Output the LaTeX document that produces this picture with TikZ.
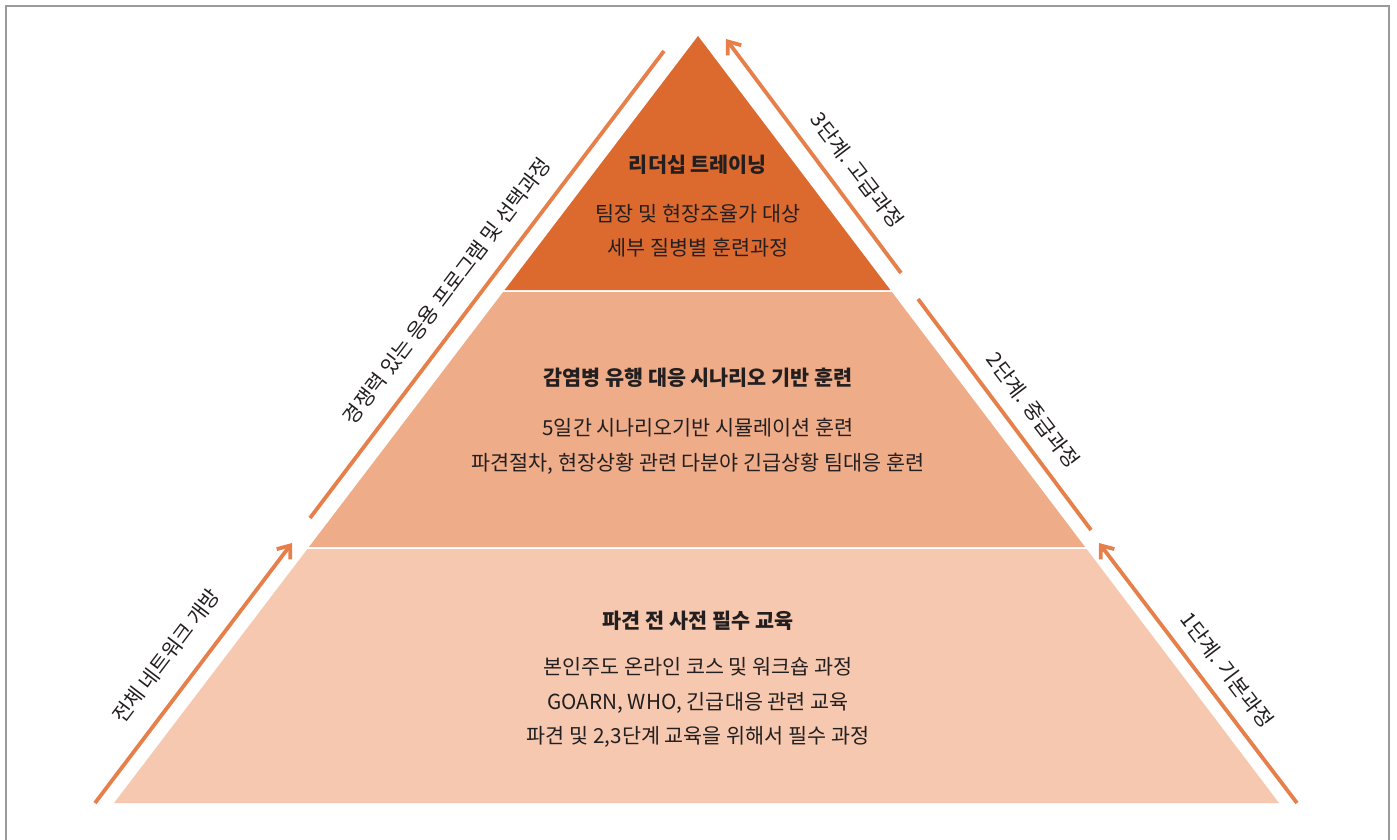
\documentclass[tikz,border=0pt]{standalone}
\usepackage{fontspec}
\setmainfont{Noto Sans CJK KR}
\usetikzlibrary{arrows.meta}
\definecolor{topc}{HTML}{DC6A2F}
\definecolor{midc}{HTML}{EEAC88}
\definecolor{botc}{HTML}{F5C8AF}
\definecolor{arrc}{HTML}{E67F4A}
\definecolor{txt}{HTML}{231F20}
\definecolor{frame}{HTML}{9A9A9A}
\begin{document}
\begin{tikzpicture}[x=1pt,y=-1pt,
  lbl/.style={font=\fontsize{20.7}{34.5}\selectfont, text=txt, inner sep=0pt},
  ttl/.style={lbl, font=\fontsize{20.7}{34.5}\selectfont\bfseries},
  desc/.style={lbl, align=center},
  sidel/.style={lbl, rotate=52.7},
  sider/.style={lbl, rotate=-52.7},
  seg/.style={draw=arrc, line width=3.8pt},
  arr/.style={seg, -{Straight Barb[length=11pt,width=17pt]}}]
\useasboundingbox (0,0) rectangle (1397,840);
\draw[frame, line width=2pt] (6,842) -- (6,6) -- (1389,6) -- (1389,842);
% pyramid layers
\fill[topc] (698,36) -- (890.4,290) -- (504.6,290) -- cycle;
\fill[midc] (503.1,292) -- (891.9,292) -- (1085.1,547) -- (308.9,547) -- cycle;
\fill[botc] (307.4,549) -- (1086.6,549) -- (1279,803) -- (114,803) -- cycle;
% texts
\node[ttl] (t1) at (698,165) {리더십 트레이닝};
\node[desc] (d1) at (698,230.5) {팀장 및 현장조율가 대상\\세부 질병별 훈련과정};
\node[ttl] (t2) at (698,378) {감염병 유행 대응 시나리오 기반 훈련};
\node[desc] (d2) at (698,446.5) {5일간 시나리오기반 시뮬레이션 훈련\\파견절차, 현장상황 관련 다분야 긴급상황 팀대응 훈련};
\node[ttl] (t3) at (698,621) {파견 전 사전 필수 교육};
\node[desc] (d3) at (698,702.5) {본인주도 온라인 코스 및 워크숍 과정\\GOARN, WHO, 긴급대응 관련 교육\\파견 및 2,3단계 교육을 위해서 필수 과정};
% arrows
\coordinate (la0) at (95,803);
\coordinate (la1) at (292,543);
\coordinate (lb0) at (310,518);
\coordinate (lb1) at (664,51);
\coordinate (ra0) at (1297,803);
\coordinate (ra1) at (1099,543);
\coordinate (rb0) at (1091,530);
\coordinate (rb1) at (918,299);
\coordinate (rc0) at (901,273);
\coordinate (rc1) at (726,39);
\draw[arr] (la0) -- (la1);
\draw[seg] (lb0) -- (lb1);
\draw[arr] (ra0) -- (ra1);
\draw[seg] (rb0) -- (rb1);
\draw[arr] (rc0) -- (rc1);
% side labels
\node[sidel] (s1) at (166,656) {전체 네트워크 개방};
\node[sidel] (s2) at (447,291) {경쟁력 있는 응용 프로그램 및 선택과정};
\node[sider] (s3) at (857,170) {3단계. 고급과정};
\node[sider] (s4) at (1033,410) {2단계. 중급과정};
\node[sider] (s5) at (1227,670) {1단계. 기본과정};
\end{tikzpicture}
\end{document}
